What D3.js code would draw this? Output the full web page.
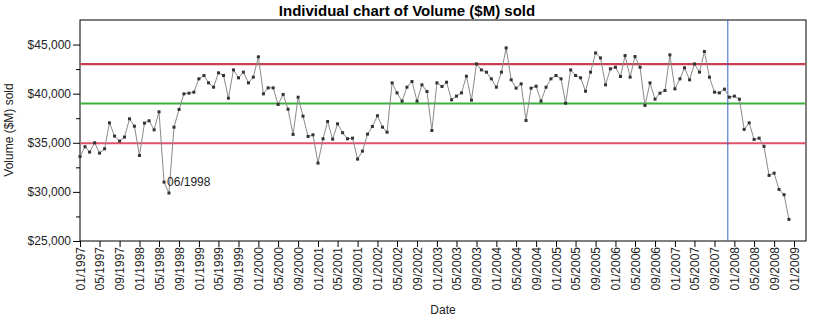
<!DOCTYPE html>
<html><head><meta charset="utf-8">
<script src="https://cdn.jsdelivr.net/npm/d3@7"></script>
<style>
body{margin:0;background:#fff;}
svg{display:block;}
text{font-family:"Liberation Sans",Arial,sans-serif;}
</style></head>
<body><svg id="c" width="815" height="324"></svg>
<script>
const startMonth = "01/1997";
const endMonth = "12/2008";
const volume = [
33600,34600,34050,35000,33950,34390,37030,35680,35170,35580,37440,36690,
33710,37000,37240,36320,38150,31000,29880,36590,38390,39980,40050,40150,
41510,41850,41100,40660,42120,41850,39540,42420,41610,42190,41100,41680,
43750,39980,40590,40590,38900,39920,38420,35850,39640,37710,35640,35810,
32930,35410,37170,35370,36930,36020,35410,35470,33340,34150,35880,36660,
37750,36590,36080,41100,40080,39240,40660,41240,39240,40900,40220,36250,
41100,40730,41170,39370,39750,40080,41780,39340,43030,42420,42190,41510,
40660,42190,44660,41410,40560,41000,37270,40560,40760,39240,40660,41510,
41850,41510,39030,42420,41850,41610,40250,42190,44150,43640,40900,42530,
42690,41750,43880,41680,43780,42690,38800,41100,39440,40050,40320,43950,
40490,41510,42630,41410,43030,42190,44290,41680,40150,40080,40460,39640,
39750,39440,36360,37030,35340,35470,34630,31680,31910,30250,29710,27200
];
const controlLimits = [43000, 38990, 34950]; // UCL, center, LCL
const phaseBreak = "12/2007";
const annotation = {month: "06/1998", text: "06/1998"};
const yTicks = [25000, 30000, 35000, 40000, 45000];
const yMinorTicks = [27500, 32500, 37500, 42500];

const parse = d3.timeParse("%m/%Y");
const months = d3.timeMonth.range(parse(startMonth), d3.timeMonth.offset(parse(endMonth), 1));
const data = months.map((d, i) => ({date: d, v: volume[i]}));

const svg = d3.select("#c");
const L = 80, R = 806, T = 20, B = 241;
const x = d3.scaleTime().domain([parse("01/1997"), parse("01/2009")]).range([80, 794]);
const y = d3.scaleLinear().domain([25000, 47500]).range([B, T]);

// frame
svg.append("rect").attr("x", L).attr("y", T).attr("width", R - L).attr("height", B - T)
  .attr("fill", "none").attr("stroke", "#000").attr("stroke-width", 1);

// control lines
const clColors = ["#c8404f", "#3cb03c", "#e0506a"];
controlLimits.forEach((v, i) => {
  svg.append("line").attr("x1", L + 0.5).attr("x2", R - 0.5)
    .attr("y1", y(v)).attr("y2", y(v))
    .attr("stroke", clColors[i]).attr("stroke-width", i === 0 ? 2.2 : 2);
});

// phase break
svg.append("line").attr("x1", x(parse(phaseBreak)) - 1.5).attr("x2", x(parse(phaseBreak)) - 1.5)
  .attr("y1", T).attr("y2", B).attr("stroke", "#3a5fc8").attr("stroke-width", 1);

// y axis
const yAxis = d3.axisLeft(y).tickValues(yTicks).tickSize(7).tickPadding(2)
  .tickFormat(d => "$" + d3.format(",")(d));
const gy = svg.append("g").attr("transform", `translate(${L},0)`).call(yAxis);
gy.select(".domain").remove();
gy.selectAll("text").attr("font-size", 12).attr("fill", "#222");
svg.append("g").attr("transform", `translate(${L},0)`)
  .call(d3.axisLeft(y).tickValues(yMinorTicks).tickSize(4).tickFormat(""))
  .select(".domain").remove();

// x axis
const xAxis = d3.axisBottom(x).ticks(d3.timeMonth.every(4)).tickSize(6).tickPadding(4)
  .tickFormat(d3.timeFormat("%m/%Y"));
const gx = svg.append("g").attr("transform", `translate(0,${B})`).call(xAxis);
gx.select(".domain").remove();
gx.selectAll("text").attr("font-size", 12).attr("fill", "#222")
  .attr("transform", "rotate(-90)").attr("text-anchor", "end")
  .attr("x", -6).attr("y", 0).attr("dy", "0.35em");

// line
svg.append("path").datum(data).attr("fill", "none").attr("stroke", "#8a8a8a").attr("stroke-width", 1)
  .attr("d", d3.line().x(d => x(d.date)).y(d => y(d.v)));
svg.selectAll("rect.pt").data(data).join("rect").attr("class", "pt")
  .attr("x", d => x(d.date) - 1.5).attr("y", d => y(d.v) - 1.5)
  .attr("width", 3).attr("height", 3).attr("fill", "#333");

// annotation
const an = data.find(d => d3.timeFormat("%m/%Y")(d.date) === annotation.month);
svg.append("text").attr("x", x(an.date) + 3).attr("y", y(an.v) + 4)
  .attr("font-size", 12).attr("fill", "#222").text(annotation.text);

// titles
svg.append("text").attr("x", 407).attr("y", 16).attr("text-anchor", "middle")
  .attr("font-family", "Liberation Sans Narrow, Arial Narrow, sans-serif")
  .attr("font-weight", "bold").attr("font-size", 15).text("Individual chart of Volume ($M) sold");
svg.append("text").attr("transform", "translate(13,130) rotate(-90)").attr("text-anchor", "middle")
  .attr("font-size", 12).attr("fill", "#222").text("Volume ($M) sold");
svg.append("text").attr("x", 443).attr("y", 314).attr("text-anchor", "middle")
  .attr("font-size", 12).attr("fill", "#222").text("Date");
</script></body></html>
